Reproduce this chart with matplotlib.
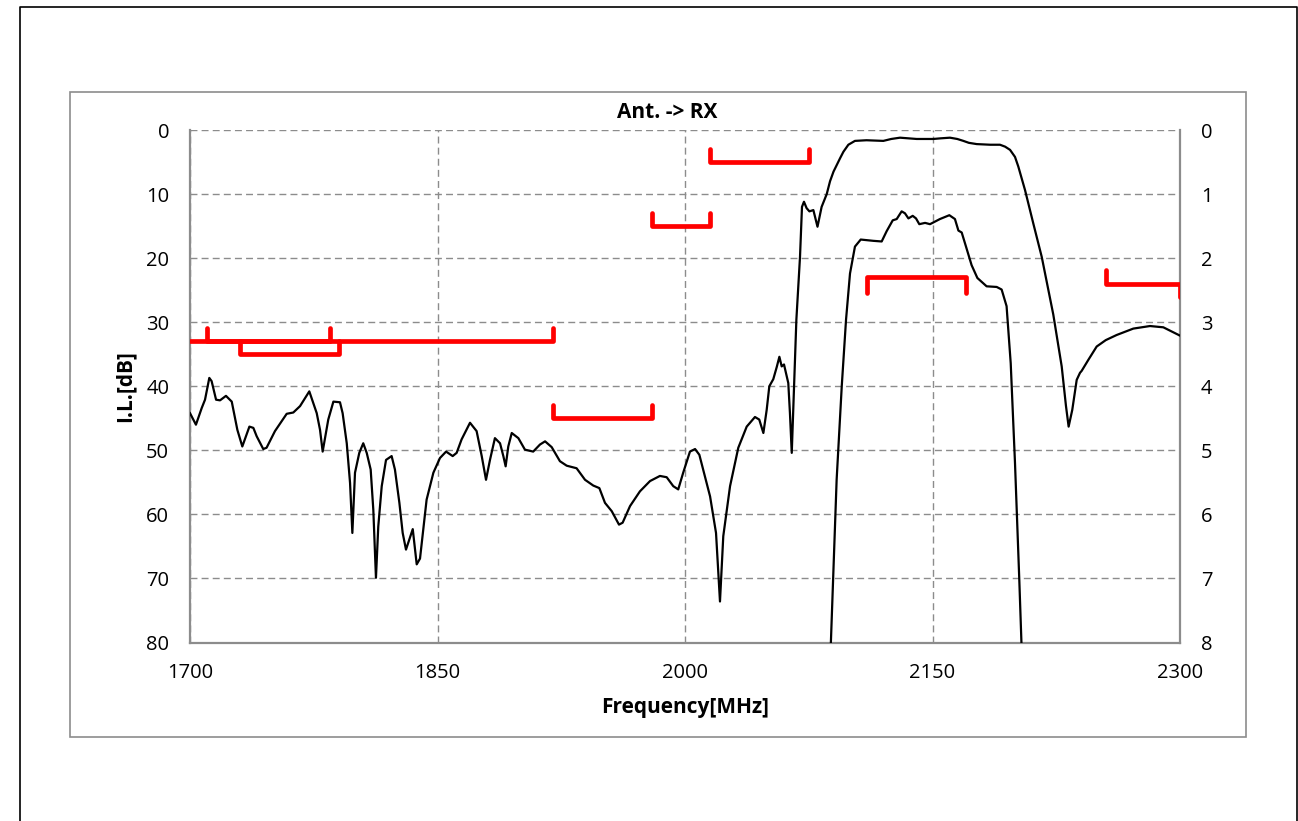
import matplotlib
matplotlib.use("Agg")
import matplotlib.pyplot as plt
from matplotlib.patches import Rectangle
from matplotlib.lines import Line2D

plt.rcParams['font.family'] = ['Open Sans', 'DejaVu Sans']

# wide-range response (left axis, dB)
wide_freq = [1700, 1703.6, 1707.1, 1709.1, 1711.7, 1713.1, 1715.8, 1718.2, 1721.8, 1725.3,
             1728.7, 1731.7, 1736, 1738.4, 1740.4, 1744.4, 1746.4, 1751.5, 1758.6, 1762.6,
             1766.7, 1772.3, 1776.8, 1778.8, 1780.4, 1783.8, 1786.9, 1790.9, 1792.5, 1795,
             1797, 1798.4, 1800, 1802.6, 1805, 1807.1, 1809.5, 1811.1, 1812.7, 1814.1,
             1816.2, 1818.8, 1822.2, 1824.2, 1826.9, 1828.9, 1830.9, 1835, 1837.4, 1839.4,
             1843.4, 1847.5, 1851.5, 1855.2, 1859.2, 1861.6, 1864.6, 1869.7, 1873.7, 1876.8,
             1879.4, 1881.8, 1884.8, 1887.9, 1889.9, 1891.3, 1892.9, 1895, 1899, 1903,
             1908, 1912.1, 1915.2, 1919.2, 1924.2, 1928.3, 1934.3, 1939.4, 1944.4, 1948.1,
             1951.5, 1955.6, 1960, 1962.2, 1966.7, 1972.7, 1978.8, 1984.8, 1988.9, 1992.9,
             1995.9, 1998.9, 2003, 2006.1, 2008.7, 2012.1, 2015.2, 2018.8, 2021.2, 2023.2,
             2027.3, 2032.3, 2037.4, 2042.4, 2045, 2047.5, 2049.5, 2051.1, 2053.5, 2055.6,
             2057.2, 2058.6, 2060, 2062.6, 2063.6, 2064.7, 2065.7, 2067.5, 2069.7, 2070.9,
             2072.1, 2073.7, 2075.4, 2077.8, 2080.3, 2082.8, 2085.9, 2087.9, 2090, 2094,
             2096, 2099, 2103, 2110, 2120.2, 2125, 2130.3, 2135, 2140.4, 2150.5,
             2155, 2160.6, 2165, 2168.7, 2172, 2176.8, 2185, 2190.9, 2194, 2197,
             2200, 2202, 2206.1, 2211.1, 2216.2, 2223.2, 2228.3, 2230.9, 2232.5, 2234.7,
             2237.4, 2239.4, 2240.4, 2244.4, 2249.5, 2255, 2261.6, 2271.7, 2281.8, 2289.9,
             2300]
wide_loss = [44.2, 46.0, 43.4, 42.1, 38.7, 39.2, 42.1, 42.2, 41.5, 42.4,
             46.8, 49.4, 46.3, 46.5, 47.8, 49.8, 49.6, 47.0, 44.3, 44.1,
             43.1, 40.8, 44.2, 46.8, 50.2, 45.2, 42.4, 42.5, 44.2, 48.9,
             55.1, 62.9, 53.5, 50.4, 48.9, 50.4, 53.0, 59.3, 69.9, 61.9,
             55.6, 51.5, 50.9, 53.0, 58.2, 62.9, 65.5, 62.3, 67.8, 66.9,
             57.7, 53.5, 51.2, 50.2, 50.9, 50.4, 48.3, 45.7, 47.0, 50.9,
             54.6, 51.5, 48.1, 48.9, 50.9, 52.5, 49.4, 47.3, 48.1, 49.9,
             50.2, 49.1, 48.6, 49.5, 51.7, 52.4, 52.8, 54.6, 55.5, 55.9,
             58.2, 59.5, 61.6, 61.3, 58.7, 56.4, 54.8, 54.0, 54.2, 55.6,
             56.1, 53.5, 50.2, 49.8, 50.7, 54.1, 57.2, 62.9, 73.6, 63.4,
             55.6, 49.6, 46.3, 44.8, 45.2, 47.3, 43.7, 40.0, 38.9, 37.0,
             35.4, 36.9, 36.6, 39.5, 44.2, 50.4, 43.1, 29.6, 19.8, 12.0,
             11.2, 12.2, 12.7, 12.5, 15.1, 12.0, 10.0, 8.0, 6.5, 4.4,
             3.4, 2.3, 1.7, 1.6, 1.7, 1.4, 1.2, 1.3, 1.4, 1.4,
             1.3, 1.2, 1.4, 1.7, 2.0, 2.2, 2.3, 2.3, 2.6, 3.1,
             4.2, 5.7, 9.4, 14.6, 19.8, 28.8, 36.9, 43.1, 46.3, 43.7,
             39.0, 37.9, 37.6, 35.9, 33.8, 32.8, 32.0, 31.0, 30.6, 30.8,
             32.1]

# passband zoom (right axis, dB)
pass_freq = [2088.0, 2091.9, 2095, 2097.6, 2100, 2103, 2106.5, 2114.1, 2119.2, 2122.2,
             2125.9, 2128.3, 2131.3, 2133.3, 2135.4, 2138, 2140, 2142, 2145.5, 2148.5,
             2154.5, 2160.2, 2163.6, 2165.7, 2167.7, 2170.3, 2173.7, 2177.2, 2182.8, 2188.9,
             2191.9, 2194.9, 2197.4, 2200, 2202.6, 2204.3]
pass_loss = [8.3, 5.46, 4.00, 2.96, 2.24, 1.82, 1.71, 1.73, 1.74, 1.58,
             1.41, 1.39, 1.27, 1.30, 1.38, 1.34, 1.38, 1.47, 1.45, 1.47,
             1.39, 1.33, 1.39, 1.57, 1.60, 1.82, 2.11, 2.31, 2.44, 2.45,
             2.49, 2.75, 3.64, 5.20, 7.02, 8.3]

# attenuation specs (left axis): start, stop, level, tick at left / right end (-1 up, +1 down, 0 none)
att_start = [1700, 1710, 1730, 1920, 1980, 2015, 2255]
att_stop = [1920, 1785, 1790, 1980, 2015, 2075, 2300]
att_level = [33, 33, 35, 45, 15, 5, 24]
att_tick_l = [0, -1, -1, -1, -1, -1, -1]
att_tick_r = [-1, -1, -1, -1, -1, -1, 1]

# insertion loss spec (right axis)
il_start = [2110]
il_stop = [2170]
il_level = [2.3]

W, H = 1298, 821
fig = plt.figure(figsize=(W / 100, H / 100), dpi=100)

# frame around image and chart area
fig.add_artist(Line2D([20 / W, 20 / W, 1297 / W, 1297 / W], [0, 1 - 7 / H, 1 - 7 / H, 0],
                      transform=fig.transFigure, color='black', lw=1.2))
fig.add_artist(Rectangle((70 / W, 1 - 737 / H), 1176 / W, 645 / H, transform=fig.transFigure,
                         fill=False, edgecolor='#8c8c8c', lw=1.2))

ax = fig.add_axes([190 / W, 1 - 642.5 / H, 990 / W, 512.5 / H])
ax.set_xlim(1700, 2300)
ax.set_ylim(80, 0)
ax.set_xticks([1700, 1850, 2000, 2150, 2300])
ax.set_yticks(range(0, 81, 10))
ax.grid(True, color='#8c8c8c', linestyle=(0, (5, 3)), linewidth=1.0)
ax.tick_params(length=0, labelsize=14.5, pad=15)
for s in ['left', 'bottom', 'right']:
    ax.spines[s].set_color('#8c8c8c')
    ax.spines[s].set_linewidth(1.6)
ax.spines['top'].set_visible(False)

ax.plot(wide_freq, wide_loss, color='black', lw=1.6, solid_joinstyle='round', zorder=4)

tick = 2.1
for f0, f1, lv, tl, tr in zip(att_start, att_stop, att_level, att_tick_l, att_tick_r):
    ax.plot([f0, f0, f1, f1], [lv + tl * tick, lv, lv, lv + tr * tick], color='red',
            lw=3.4, solid_capstyle='round', solid_joinstyle='round', zorder=5, clip_on=True)

ax2 = ax.twinx()
ax2.set_ylim(8, 0)
ax2.set_yticks(range(0, 9))
ax2.tick_params(length=0, labelsize=14.5, pad=15)
for s in ax2.spines.values():
    s.set_visible(False)
ax2.plot(pass_freq, pass_loss, color='black', lw=1.6, solid_joinstyle='round', zorder=4)
for f0, f1, lv in zip(il_start, il_stop, il_level):
    ax2.plot([f0, f0, f1, f1], [lv + 0.25, lv, lv, lv + 0.25], color='red',
             lw=3.4, solid_capstyle='round', solid_joinstyle='round', zorder=5)

fig.text(667 / W, 1 - 113 / H, 'Ant. -> RX', ha='center', va='center', fontsize=15, fontweight='bold')
fig.text(125 / W, 1 - 386 / H, 'I.L.[dB]', ha='center', va='center', rotation=90,
         fontsize=15, fontweight='bold')
fig.text(685 / W, 1 - 707 / H, 'Frequency[MHz]', ha='center', va='center', fontsize=15,
         fontweight='bold')

fig.savefig('out.png', dpi=100)
